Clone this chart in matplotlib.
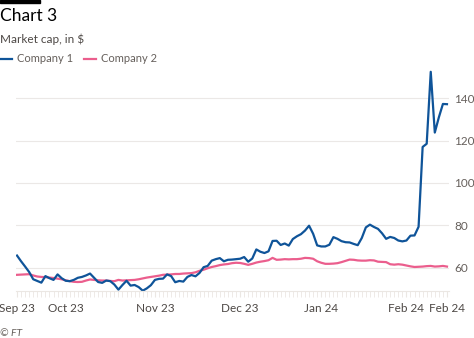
import matplotlib.pyplot as plt
import numpy as np

plt.rcParams['font.family'] = ['Lato', 'DejaVu Sans']

# trading days, mid Sep 2023 -> mid Feb 2024
company1 = [65.7, 63.0, 60.5, 57.9, 54.5, 53.7, 52.9, 56.0, 55.0, 54.2,
            56.8, 55.0, 53.8, 53.6, 54.2, 55.2, 55.6, 56.3, 57.2, 55.2,
            53.2, 52.8, 53.9, 53.6, 52.0, 49.6, 51.8, 53.8, 51.5, 51.8,
            50.8, 49.1, 50.2, 51.7, 54.2, 54.7, 54.8, 56.8, 56.0, 53.1,
            53.7, 53.4, 55.6, 56.5, 55.9, 57.5, 60.2, 60.8, 63.3, 64.0,
            64.5, 63.0, 63.7, 63.8, 64.0, 64.2, 65.0, 62.8, 64.3, 68.6,
            67.5, 66.9, 67.7, 72.6, 72.7, 70.7, 71.4, 70.4, 73.5, 74.8,
            75.8, 77.5, 79.8, 76.0, 70.5, 70.0, 70.0, 70.8, 74.4, 73.6,
            72.5, 72.0, 71.9, 71.2, 70.6, 74.0, 79.0, 80.3, 79.2, 78.3,
            76.2, 73.6, 74.5, 74.0, 72.8, 72.4, 72.8, 75.1, 75.2, 79.3,
            117.0, 118.5, 152.5, 123.8, 131.0, 137.3, 137.2]
company2 = [56.6, 56.7, 56.8, 56.9, 56.3, 55.8, 55.6, 55.5, 55.3, 55.1,
            54.8, 54.5, 54.0, 53.6, 53.3, 53.2, 53.3, 53.9, 54.4, 54.2,
            54.0, 53.9, 53.9, 53.7, 53.6, 54.2, 53.9, 54.0, 54.1, 54.2,
            54.5, 54.9, 55.3, 55.6, 55.9, 56.2, 56.6, 56.7, 56.8, 57.0,
            57.0, 57.2, 57.3, 57.4, 57.8, 58.5, 59.0, 59.7, 60.3, 60.7,
            61.2, 61.5, 61.7, 62.1, 62.3, 62.2, 61.8, 61.3, 61.8, 62.4,
            62.8, 63.1, 63.5, 64.6, 63.7, 63.8, 64.0, 63.9, 64.0, 64.0,
            64.2, 64.6, 64.5, 64.2, 63.0, 62.3, 61.8, 61.8, 61.9, 62.1,
            62.6, 63.2, 63.8, 63.7, 63.4, 63.3, 63.3, 63.5, 63.4, 62.8,
            62.7, 62.6, 61.6, 61.4, 61.6, 61.4, 61.0, 60.6, 60.3, 60.4,
            60.5, 60.7, 60.8, 60.5, 60.6, 60.8, 60.5]
tick_pos = [0, 12, 34, 55, 75, 96, 106]
tick_labels = ['Sep 23', 'Oct 23', 'Nov 23', 'Dec 23', 'Jan 24', 'Feb 24', 'Feb 24']
yticks = [60, 80, 100, 120, 140]

blue = '#0f5499'
pink = '#eb5e8d'
grey = '#66605c'

fig = plt.figure(figsize=(4.74, 3.38), dpi=100)
ax = fig.add_axes([16/474, 1 - 290.7/338, 433/474, 224.2/338])

x = np.arange(len(company1))
ax.plot(x, company2, color=pink, lw=1.6, solid_joinstyle='round')
ax.plot(x, company1, color=blue, lw=1.6, solid_joinstyle='round')

ax.set_xlim(-0.25, 106.5)
ax.set_ylim(49.1, 155)
ax.set_yticks(yticks)
ax.yaxis.tick_right()
ax.tick_params(axis='y', length=0, labelsize=8.5, labelcolor=grey, pad=4)
ax.grid(axis='y', color='#ebe8e6', lw=0.8)
ax.set_axisbelow(True)

ax.set_xticks(tick_pos)
ax.set_xticklabels(tick_labels)
ax.set_xticks(x, minor=True)
ax.tick_params(axis='x', which='both', length=4, color='#ebe7e3', labelsize=8.5,
               labelcolor='#4d4845', pad=5)
for s in ['top', 'right', 'left']:
    ax.spines[s].set_visible(False)
ax.spines['bottom'].set_color('#ebe7e3')

fig.patches.append(plt.Rectangle((0, 1 - 3/338), 40/474, 3/338,
                                 transform=fig.transFigure, color='black'))
fig.text(0.0, 1 - 16/338, 'Chart 3', fontsize=12.5, color='black', va='center')
fig.text(0.0, 1 - 39/338, 'Market cap, in $', fontsize=8.5, color='#4d4845', va='center')
fig.lines.append(plt.Line2D([0, 12/474], [1 - 59/338] * 2, color=blue, lw=1.6,
                            transform=fig.transFigure))
fig.text(17/474, 1 - 59/338, 'Company 1', fontsize=8, color=grey, va='center')
fig.lines.append(plt.Line2D([84/474, 96/474], [1 - 59/338] * 2, color=pink, lw=1.6,
                            transform=fig.transFigure))
fig.text(101/474, 1 - 59/338, 'Company 2', fontsize=8, color=grey, va='center')
fig.text(0.0, 1 - 333/338, '© FT', fontsize=7.5, color=grey, style='italic', va='center')

fig.savefig('out.png', dpi=100)
